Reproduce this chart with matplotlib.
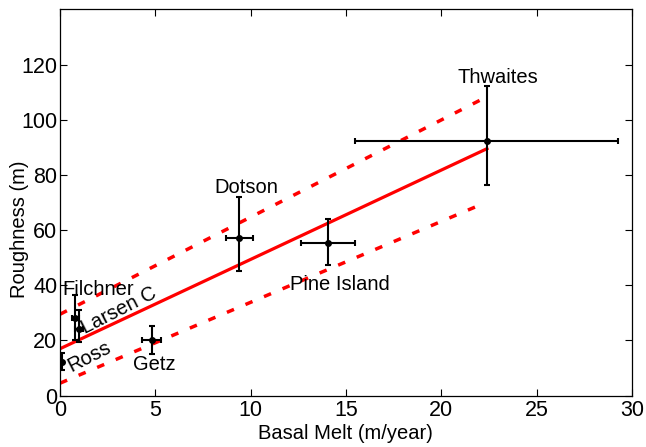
import numpy as np
import matplotlib.pyplot as plt

plt.rcParams['font.family'] = ['Liberation Sans', 'DejaVu Sans']

# ice shelves
names = ['Ross', 'Filchner', 'Larsen C', 'Getz', 'Dotson', 'Pine Island', 'Thwaites']
melt = [0.1, 0.8, 1.0, 4.8, 9.4, 14.05, 22.4]
melt_err = [0.0, 0.2, 0.2, 0.5, 0.7, 1.4, 6.9]
rough = [12.3, 28.0, 24.0, 20.2, 57.0, 55.3, 92.3]
rough_lo = [3.0, 8.0, 4.5, 5.0, 12.0, 8.0, 16.0]
rough_hi = [3.0, 8.5, 7.0, 5.0, 15.0, 8.8, 20.0]

# fit and bounds (endpoints)
fit_x = [0.0, 22.4]
fit_y = [17.0, 89.5]
upper_x = [0.0, 22.3]
upper_y = [29.5, 108.0]
lower_x = [0.0, 22.0]
lower_y = [4.5, 69.0]

# label positions
lab_x = [0.6, 0.1, 1.3, 4.93, 9.77, 14.7, 22.96]
lab_y = [8.6, 36.6, 22.5, 9.4, 73.4, 38.1, 113.3]
lab_rot = [27, 0, 27, 0, 0, 0, 0]
lab_ha = ['left', 'left', 'left', 'center', 'center', 'center', 'center']

fig = plt.figure(figsize=(6.46, 4.47), dpi=100)
ax = fig.add_axes([0.093, 0.115, 0.885, 0.864])

ax.plot(fit_x, fit_y, color='red', linewidth=2.3)
ax.plot(upper_x, upper_y, color='red', linewidth=2.5, linestyle=(0, (2.2, 3.6)))
ax.plot(lower_x, lower_y, color='red', linewidth=2.5, linestyle=(0, (2.2, 3.6)))

ax.errorbar(melt, rough, xerr=melt_err, yerr=[rough_lo, rough_hi],
            fmt='o', color='k', markersize=4, elinewidth=1.5, capsize=2, capthick=1.5)

for n, x, y, r, ha in zip(names, lab_x, lab_y, lab_rot, lab_ha):
    ax.text(x, y, n, fontsize=14.5, rotation=r, ha=ha, va='baseline', rotation_mode='anchor')

ax.set_xlim(0, 30)
ax.set_ylim(0, 140)
ax.set_xticks(np.arange(0, 31, 5))
ax.set_yticks(np.arange(0, 121, 20))
ax.tick_params(direction='in', top=True, right=True, labelsize=15.5, length=5)
ax.tick_params(axis='x', pad=3)
ax.tick_params(axis='y', pad=2)
for s in ax.spines.values():
    s.set_linewidth(0.9)
ax.set_xlabel('Basal Melt (m/year)', fontsize=14.5, labelpad=2)
ax.set_ylabel('Roughness (m)', fontsize=14.5)
ax.yaxis.set_label_coords(-0.055, 0.43)

fig.savefig('out.png', dpi=100)
